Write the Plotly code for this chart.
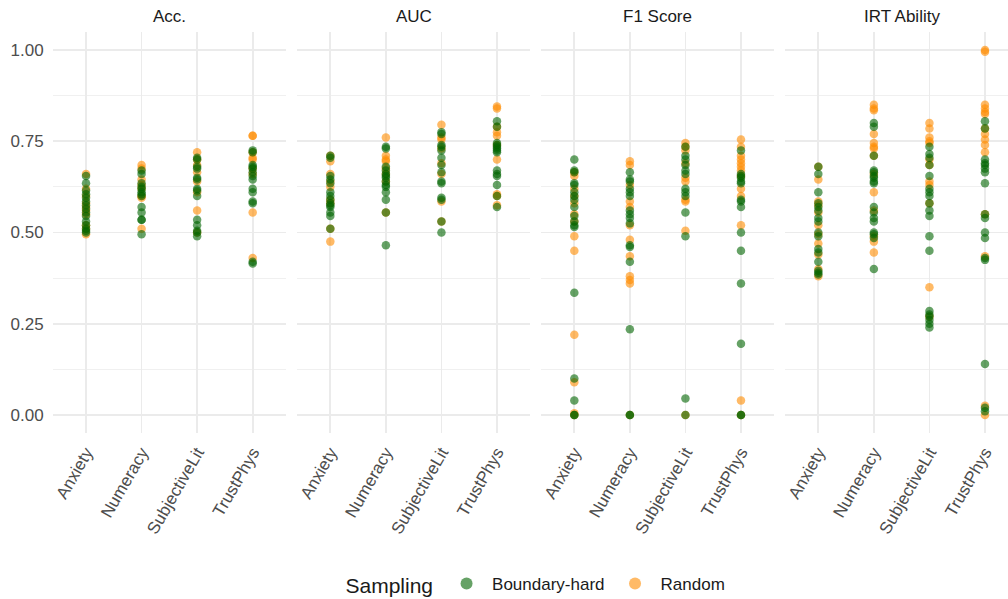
import plotly.graph_objects as go

categories = ["Anxiety", "Numeracy", "SubjectiveLit", "TrustPhys"]
metrics = ["Acc.", "AUC", "F1 Score", "IRT Ability"]
samplings = ["Boundary-hard", "Random"]
y_ticks = [0.0, 0.25, 0.5, 0.75, 1.0]
y_tick_labels = ["0.00", "0.25", "0.50", "0.75", "1.00"]

# ---- Acc. ----
acc_boundary = {
    "Anxiety": [0.655, 0.635, 0.615, 0.605, 0.595, 0.585, 0.575, 0.565, 0.555, 0.545, 0.53, 0.52, 0.51, 0.505, 0.50],
    "Numeracy": [0.67, 0.66, 0.635, 0.625, 0.62, 0.61, 0.605, 0.60, 0.57, 0.555, 0.535, 0.535, 0.495],
    "SubjectiveLit": [0.705, 0.70, 0.68, 0.675, 0.65, 0.645, 0.62, 0.615, 0.60, 0.535, 0.52, 0.505, 0.50, 0.49],
    "TrustPhys": [0.725, 0.72, 0.685, 0.68, 0.675, 0.665, 0.655, 0.645, 0.62, 0.61, 0.585, 0.58, 0.415, 0.42],
}
acc_random = {
    "Anxiety": [0.66, 0.62, 0.60, 0.58, 0.57, 0.56, 0.55, 0.52, 0.51, 0.495],
    "Numeracy": [0.685, 0.675, 0.645, 0.63, 0.62, 0.60, 0.595, 0.51],
    "SubjectiveLit": [0.72, 0.70, 0.685, 0.665, 0.64, 0.61, 0.56, 0.50],
    "TrustPhys": [0.765, 0.765, 0.72, 0.705, 0.70, 0.675, 0.66, 0.555, 0.43],
}

# ---- AUC ----
auc_boundary = {
    "Anxiety": [0.71, 0.705, 0.655, 0.645, 0.635, 0.61, 0.60, 0.59, 0.58, 0.575, 0.57, 0.555, 0.545, 0.51],
    "Numeracy": [0.735, 0.73, 0.68, 0.67, 0.66, 0.655, 0.65, 0.64, 0.63, 0.625, 0.61, 0.59, 0.555, 0.465],
    "SubjectiveLit": [0.775, 0.77, 0.74, 0.735, 0.725, 0.705, 0.685, 0.665, 0.64, 0.635, 0.595, 0.59, 0.53, 0.50],
    "TrustPhys": [0.805, 0.79, 0.745, 0.74, 0.735, 0.73, 0.725, 0.72, 0.67, 0.66, 0.655, 0.63, 0.60, 0.57],
}
auc_random = {
    "Anxiety": [0.71, 0.695, 0.66, 0.64, 0.625, 0.59, 0.58, 0.51, 0.475],
    "Numeracy": [0.76, 0.71, 0.70, 0.695, 0.675, 0.66, 0.64, 0.555],
    "SubjectiveLit": [0.795, 0.76, 0.755, 0.73, 0.69, 0.66, 0.585, 0.53],
    "TrustPhys": [0.845, 0.84, 0.79, 0.775, 0.765, 0.74, 0.70, 0.605, 0.60, 0.575],
}

# ---- F1 Score ----
f1_boundary = {
    "Anxiety": [0.70, 0.67, 0.665, 0.635, 0.63, 0.61, 0.60, 0.59, 0.57, 0.545, 0.53, 0.52, 0.515, 0.335, 0.10, 0.04, 0.0, 0.0],
    "Numeracy": [0.665, 0.645, 0.64, 0.62, 0.61, 0.60, 0.56, 0.55, 0.54, 0.525, 0.465, 0.46, 0.42, 0.235, 0.0, 0.0],
    "SubjectiveLit": [0.735, 0.71, 0.70, 0.685, 0.67, 0.66, 0.62, 0.61, 0.60, 0.555, 0.49, 0.045, 0.0],
    "TrustPhys": [0.725, 0.66, 0.655, 0.65, 0.64, 0.635, 0.59, 0.585, 0.57, 0.50, 0.45, 0.36, 0.195, 0.0, 0.0],
}
f1_random = {
    "Anxiety": [0.665, 0.655, 0.62, 0.60, 0.58, 0.55, 0.53, 0.49, 0.45, 0.22, 0.09, 0.005, 0.0],
    "Numeracy": [0.695, 0.685, 0.63, 0.585, 0.57, 0.52, 0.48, 0.435, 0.38, 0.37, 0.36, 0.0],
    "SubjectiveLit": [0.745, 0.735, 0.725, 0.69, 0.65, 0.64, 0.59, 0.585, 0.505, 0.0],
    "TrustPhys": [0.755, 0.735, 0.71, 0.70, 0.69, 0.68, 0.67, 0.655, 0.62, 0.60, 0.52, 0.04, 0.0],
}

# ---- IRT Ability ----
irt_boundary = {
    "Anxiety": [0.68, 0.66, 0.61, 0.58, 0.57, 0.56, 0.54, 0.53, 0.50, 0.49, 0.455, 0.445, 0.42, 0.395, 0.39, 0.385],
    "Numeracy": [0.80, 0.79, 0.71, 0.67, 0.665, 0.655, 0.65, 0.64, 0.635, 0.57, 0.555, 0.54, 0.53, 0.50, 0.495, 0.485, 0.40],
    "SubjectiveLit": [0.735, 0.715, 0.705, 0.685, 0.655, 0.62, 0.61, 0.60, 0.58, 0.56, 0.545, 0.49, 0.45, 0.285, 0.275, 0.27, 0.26, 0.25, 0.24],
    "TrustPhys": [0.805, 0.785, 0.70, 0.69, 0.685, 0.675, 0.665, 0.635, 0.55, 0.54, 0.50, 0.485, 0.43, 0.425, 0.14, 0.02, 0.01],
}
irt_random = {
    "Anxiety": [0.68, 0.645, 0.585, 0.575, 0.555, 0.52, 0.495, 0.47, 0.44, 0.40, 0.38],
    "Numeracy": [0.85, 0.84, 0.835, 0.77, 0.745, 0.735, 0.73, 0.71, 0.66, 0.61, 0.56, 0.49, 0.475, 0.445],
    "SubjectiveLit": [0.80, 0.785, 0.76, 0.75, 0.745, 0.70, 0.685, 0.64, 0.63, 0.58, 0.35, 0.27],
    "TrustPhys": [1.0, 0.995, 0.85, 0.84, 0.83, 0.825, 0.785, 0.77, 0.755, 0.74, 0.72, 0.55, 0.435, 0.025, 0.0],
}

panel_data = {
    "Acc.": {"Boundary-hard": acc_boundary, "Random": acc_random},
    "AUC": {"Boundary-hard": auc_boundary, "Random": auc_random},
    "F1 Score": {"Boundary-hard": f1_boundary, "Random": f1_random},
    "IRT Ability": {"Boundary-hard": irt_boundary, "Random": irt_random},
}

colors = {"Boundary-hard": "rgba(0,100,0,0.6)", "Random": "rgba(255,140,0,0.6)"}
ranks = {"Boundary-hard": 1, "Random": 2}

W, H = 1008, 599
px_unit = 55.55
# panel edges in pixels
panel_left = [52.7, 297.0, 541.0, 785.0]
panel_right = [286.0, 530.3, 774.3, 1008.0]
y_top_px, y_bot_px = 31.75, 433.25
FONT = "Liberation Sans, Arial, sans-serif"


def fx(px):
    return px / W


def fy(px):
    return 1 - px / H


fig = go.Figure()
layout = {}
annotations = []
for i, m in enumerate(metrics):
    idx = "" if i == 0 else str(i + 1)
    xa, ya = "x" + idx, "y" + idx
    for s in ["Random", "Boundary-hard"]:
        xs, ys = [], []
        for c in categories:
            vals = panel_data[m][s][c]
            xs += [c] * len(vals)
            ys += vals
        fig.add_trace(go.Scatter(
            x=xs, y=ys, mode="markers", name=s, legendgroup=s,
            showlegend=(i == 0), legendrank=ranks[s],
            marker=dict(color=colors[s], size=8.5, line=dict(width=0)),
            xaxis=xa, yaxis=ya, hoverinfo="skip"))
    width_units = (panel_right[i] - panel_left[i]) / px_unit
    layout["xaxis" + idx] = dict(
        domain=[fx(panel_left[i]), min(1.0, fx(panel_right[i]))],
        type="category", categoryorder="array", categoryarray=categories,
        range=[-0.6, -0.6 + width_units], anchor=ya,
        showgrid=True, gridcolor="#EBEBEB", gridwidth=1.8,
        showline=False, zeroline=False, ticks="", tickangle=-60,
        ticklabelstandoff=5,
        tickfont=dict(family=FONT, size=17, color="#4D4D4D"),
        fixedrange=True)
    layout["yaxis" + idx] = dict(
        domain=[fy(y_bot_px), fy(y_top_px)],
        range=[-0.05, 1.05], anchor=xa,
        tickvals=y_ticks, ticktext=y_tick_labels, showticklabels=(i == 0),
        showgrid=True, gridcolor="#EBEBEB", gridwidth=1.8,
        minor=dict(dtick=0.125, tick0=0, showgrid=True, gridcolor="#EEEEEE", gridwidth=0.9),
        showline=False, zeroline=False, ticks="",
        tickfont=dict(family=FONT, size=17, color="#4D4D4D"),
        fixedrange=True)
    if i == 0:
        layout["yaxis"]["ticklabelstandoff"] = 8
    annotations.append(dict(
        text=m, x=fx((panel_left[i] + panel_left[i] + 4.2 * px_unit) / 2),
        y=fy(16.5), xref="paper", yref="paper", showarrow=False,
        xanchor="center", yanchor="middle",
        font=dict(family=FONT, size=17, color="#1A1A1A")))

fig.update_layout(
    width=W, height=H,
    margin=dict(l=0, r=0, t=0, b=0, autoexpand=False),
    paper_bgcolor="white", plot_bgcolor="white",
    annotations=annotations,
    legend=dict(
        orientation="h", xref="container", yref="container",
        x=537 / W, xanchor="center", y=1 - 585 / H, yanchor="middle",
        title=dict(text="Sampling", font=dict(family=FONT, size=21, color="#1A1A1A")),
        font=dict(family=FONT, size=17, color="#1A1A1A"),
        itemsizing="constant", itemwidth=41),
    **layout)

fig.write_html(
    "out.html",
    config={"displayModeBar": False, "staticPlot": True},
    post_script="document.body.style.margin='0';document.body.style.overflow='hidden';")
